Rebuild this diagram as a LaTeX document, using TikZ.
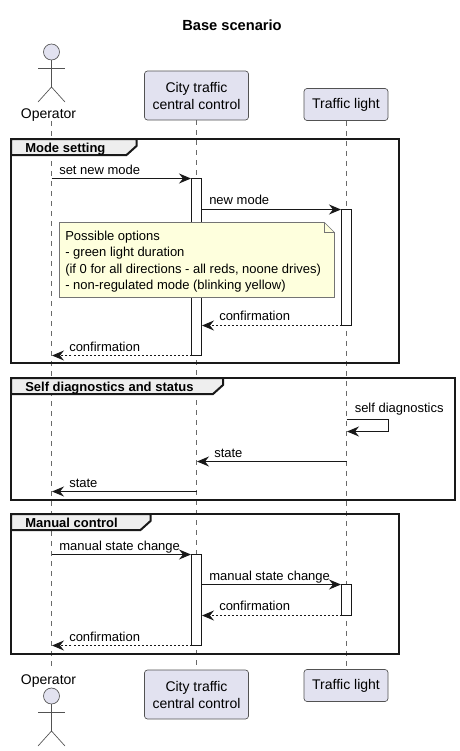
\documentclass[tikz,border=0pt]{standalone}
\usepackage{fontspec}
\setmainfont{Liberation Sans}
\usetikzlibrary{arrows.meta}
\definecolor{partfill}{HTML}{E2E2F0}
\definecolor{edgecol}{HTML}{181818}
\definecolor{notefill}{HTML}{FEFFDD}
\definecolor{tabfill}{HTML}{EEEEEE}
\tikzset{
  part/.style={draw=edgecol!75,fill=partfill,rounded corners=2.25pt,line width=0.5pt,align=center,inner sep=0pt,font=\fontsize{10.5}{12.75}\selectfont},
  lifeline/.style={draw=edgecol!65,line width=0.5pt,dash pattern=on 3.75pt off 3.75pt},
  actbox/.style={draw=edgecol,fill=white,line width=0.75pt,minimum width=7.5pt,inner sep=0pt},
  msg/.style={draw=edgecol,line width=0.75pt,-{Stealth[length=9pt,width=7.5pt,inset=3pt]}},
  ret/.style={msg,dash pattern=on 1.5pt off 1.5pt},
  lbl/.style={anchor=base west,inner sep=0pt,font=\fontsize{9.75}{12}\selectfont},
  ttl/.style={anchor=base west,inner sep=0pt,font=\bfseries\fontsize{9.75}{12}\selectfont},
  actorlbl/.style={anchor=base,inner sep=0pt,font=\fontsize{10.5}{12}\selectfont},
  grp/.style={draw=black!90,line width=1.5pt},
  tabshape/.style={draw=black!90,fill=tabfill,line width=1.5pt},
  stick/.style={draw=edgecol!75,line width=0.5pt},
  head/.style={circle,draw=edgecol!75,fill=partfill,line width=0.5pt,minimum size=12pt,inner sep=0pt},
  noteshape/.style={draw=edgecol!60,line width=0.5pt},
}
\newcommand{\actnode}[4]{\node[actbox,minimum height={(#4-#3)*0.75pt}] (#1) at (#2,{(#3+#4)/2}) {};}
\newcommand{\stickman}[2]{% name, head y
  \node[head] (#1head) at (51.5,#2) {};
  \coordinate (#1hip) at (51.5,#2+35);
  \coordinate (#1armL) at (38,#2+16);
  \coordinate (#1armR) at (65,#2+16);
  \coordinate (#1legL) at (38,#2+50);
  \coordinate (#1legR) at (65,#2+50);
  \draw[stick] (#1head.south) -- (#1hip);
  \draw[stick] (#1armL) -- (#1armR);
  \draw[stick] (#1legL) -- (#1hip) -- (#1legR);
}
\begin{document}
\begin{tikzpicture}[x=0.75pt,y=-0.75pt]
\useasboundingbox (0,0) rectangle (460,751);
\fill[white] (0,0) rectangle (460,751);
\node[anchor=base,inner sep=0pt,font=\bfseries\fontsize{11}{12}\selectfont] (title) at (232,30) {Base scenario};
% participants
\node[actorlbl] (optop) at (48.5,118) {Operator};
\node[actorlbl] (opbot) at (48.5,684) {Operator};
\node[part,minimum width=78pt,minimum height=36.75pt] (citytop) at (196.5,95.5) {City traffic\\central control};
\node[part,minimum width=63pt,minimum height=24pt] (lighttop) at (346,104.5) {Traffic light};
\node[part,minimum width=78pt,minimum height=36.75pt] (citybot) at (196.5,694.5) {City traffic\\central control};
\node[part,minimum width=63pt,minimum height=24pt] (lightbot) at (346,685.5) {Traffic light};
% lifelines
\coordinate (optopline) at (51.5,121);
\coordinate (opbotline) at (51.5,667);
\draw[lifeline] (optopline) -- (opbotline);
\draw[lifeline] (citytop.south) -- (citybot.north);
\draw[lifeline] (lighttop.south) -- (lightbot.north);
\stickman{a}{52}
\stickman{b}{696}
% frames
\draw[grp] (11,139) rectangle (399,363);
\draw[tabshape] (11,139) -- (136.5,139) -- (136.5,146) -- (126.5,155) -- (11,155) -- cycle;
\node[ttl] (g1) at (25,152.5) {Mode setting};
\draw[grp] (11,378) rectangle (455,500);
\draw[tabshape] (11,378) -- (223,378) -- (223,385) -- (213,394) -- (11,394) -- cycle;
\node[ttl] (g2) at (25,391.5) {Self diagnostics and status};
\draw[grp] (11,514) rectangle (399,654);
\draw[tabshape] (11,514) -- (150.5,514) -- (150.5,521) -- (140.5,530) -- (11,530) -- cycle;
\node[ttl] (g3) at (25,527.5) {Manual control};
% activations
\actnode{ca}{196.5}{178.5}{355.5}
\actnode{la}{346.5}{209.5}{325.5}
\actnode{cb}{196.5}{554.5}{645.5}
\actnode{lb}{346.5}{584.5}{615.5}
% section 1
\coordinate (p1) at (51.5,178.5); \coordinate (p2) at (191,178.5);
\draw[msg] (p1) -- (p2);
\node[lbl] (t1) at (59,174) {set new mode};
\coordinate (p3) at (201.5,209.5); \coordinate (p4) at (341,209.5);
\draw[msg] (p3) -- (p4);
\node[lbl] (t2) at (209,204) {new mode};
% note
\draw[noteshape,fill=notefill] (59.5,222.5) -- (324.5,222.5) -- (334.5,232.5) -- (334.5,297.5) -- (59.5,297.5) -- cycle;
\draw[noteshape] (324.5,222.5) -- (324.5,232.5) -- (334.5,232.5);
\node[lbl] (n1) at (65,240.5) {Possible options};
\node[lbl] (n2) at (65,256.7) {- green light duration};
\node[lbl] (n3) at (65,273) {(if 0 for all directions - all reds, noone drives)};
\node[lbl] (n4) at (65,289) {- non-regulated mode (blinking yellow)};
\coordinate (p5) at (341.5,325.5); \coordinate (p6) at (202,325.5);
\draw[ret] (p5) -- (p6);
\node[lbl] (t3) at (219,320) {confirmation};
\coordinate (p7) at (191.5,355.5); \coordinate (p8) at (52,355.5);
\draw[ret] (p7) -- (p8);
\node[lbl] (t4) at (69,351) {confirmation};
% section 2
\coordinate (q1) at (346.5,419); \coordinate (q1a) at (388.5,419); \coordinate (q1b) at (388.5,431.5); \coordinate (q1c) at (347,431.5);
\draw[msg] (q1) -- (q1a) -- (q1b) -- (q1c);
\node[lbl] (t5) at (354.5,412.5) {self diagnostics};
\coordinate (q2) at (346.5,461.5); \coordinate (q3) at (197,461.5);
\draw[msg] (q2) -- (q3);
\node[lbl] (t6) at (214,457) {state};
\coordinate (q4) at (196.5,491.5); \coordinate (q5) at (52,491.5);
\draw[msg] (q4) -- (q5);
\node[lbl] (t7) at (69,487) {state};
% section 3
\coordinate (r1) at (51.5,554.5); \coordinate (r2) at (191,554.5);
\draw[msg] (r1) -- (r2);
\node[lbl] (t8) at (59,550) {manual state change};
\coordinate (r3) at (201.5,584.5); \coordinate (r4) at (341,584.5);
\draw[msg] (r3) -- (r4);
\node[lbl] (t9) at (209,580) {manual state change};
\coordinate (r5) at (341.5,615.5); \coordinate (r6) at (202,615.5);
\draw[ret] (r5) -- (r6);
\node[lbl] (t10) at (219,610) {confirmation};
\coordinate (r7) at (191.5,645.5); \coordinate (r8) at (52,645.5);
\draw[ret] (r7) -- (r8);
\node[lbl] (t11) at (69,641) {confirmation};
\end{tikzpicture}
\end{document}
